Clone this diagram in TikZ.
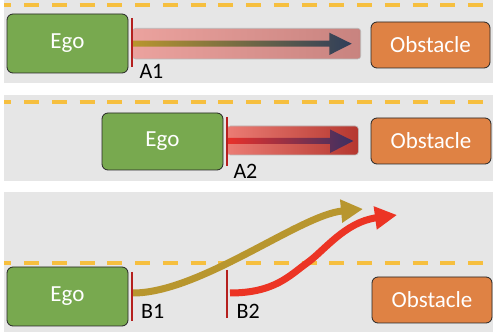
\documentclass[tikz,border=0pt]{standalone}
\usepackage{fontspec}
\setmainfont{Carlito}
\usetikzlibrary{arrows.meta}
\definecolor{lanegray}{HTML}{E6E6E6}
\definecolor{dashyellow}{HTML}{F6BF3F}
\definecolor{egogreen}{HTML}{78A94F}
\definecolor{obsorange}{HTML}{DF8244}
\definecolor{markred}{HTML}{B5201E}
\definecolor{goldc}{HTML}{B8962E}
\definecolor{navyc}{HTML}{2F3E5A}
\definecolor{curvered}{HTML}{EC3424}
\definecolor{pinkL}{HTML}{EBA29E}
\definecolor{pinkR}{HTML}{C8837F}
\definecolor{salmonL}{HTML}{EB7C74}
\definecolor{salmonR}{HTML}{B5372F}
\definecolor{brightred}{HTML}{E8302A}
\definecolor{midred}{HTML}{8C2030}
\definecolor{purplenavy}{HTML}{3A3063}
\tikzset{
  lane/.style={fill=lanegray, draw=none},
  laneline/.style={draw=dashyellow, line width=4pt, dash pattern=on 15pt off 12.75pt, dash phase=7.75pt},
  egobox/.style={draw=black!85, line width=0.8pt, fill=egogreen, rounded corners=6pt, text=white,
    font=\fontsize{23}{23}\selectfont, inner sep=0pt, minimum width=121pt},
  obsbox/.style={draw=black!85, line width=0.8pt, fill=obsorange, rounded corners=6pt, text=white,
    font=\fontsize{23}{23}\selectfont, inner sep=0pt, minimum width=119pt, minimum height=46pt},
  startmark/.style={draw=markred, line width=2.5pt},
  lbl/.style={font=\fontsize{22}{22}\selectfont, text=black, anchor=base west, inner sep=0pt},
  corridor/.style={draw=gray!55, line width=0.6pt, rounded corners=3pt},
  trajgold/.style={draw=goldc, line width=7pt, -{Triangle[length=22pt,width=22pt]}},
  trajred/.style={draw=curvered, line width=7pt, -{Triangle[length=22pt,width=22pt]}}
}
\begin{document}
\begin{tikzpicture}[x=1pt,y=-1pt]
\useasboundingbox (0,0) rectangle (493,336);
% lanes
\fill[lane] (4,0) rectangle (493,83.3);
\fill[lane] (4,95) rectangle (493,180.7);
\fill[lane] (4,191.7) rectangle (493,331.7);
% dashed lane lines
\draw[laneline] (4,5.3) -- (493,5.3);
\draw[laneline] (4,101.7) -- (493,101.7);
\draw[laneline] (4,262.7) -- (493,262.7);

% ---------- panel 1 ----------
\shade[corridor, left color=pinkL, right color=pinkR] (132.7,28.3) rectangle (360.7,59);
\shade[left color=goldc, right color=navyc]
  (132.7,40.7) -- (329.3,40.7) -- (329.3,32.7) -- (351.7,43.7) -- (329.3,55) -- (329.3,46.7) -- (132.7,46.7) -- cycle;
\node[egobox, minimum height=59pt] (ego1) at (67.5,43.5) {Ego};
\node[obsbox] (obs1) at (430.5,45) {Obstacle};
\coordinate (a1top) at (132,18);
\coordinate (a1bot) at (132,67);
\draw[startmark] (a1top) -- (a1bot);
\node[lbl] (a1) at (139.3,78.3) {A1};

% ---------- panel 2 ----------
\shade[corridor, left color=salmonL, right color=salmonR] (227.3,126) rectangle (358.3,155);
\shade[left color=brightred, middle color=midred, right color=purplenavy]
  (228,138) -- (330,138) -- (330,129.5) -- (353.3,141) -- (330,153) -- (330,144) -- (228,144) -- cycle;
\node[egobox, minimum height=57pt] (ego2) at (162.5,141.5) {Ego};
\node[obsbox, minimum width=120pt] (obs2) at (431,141) {Obstacle};
\coordinate (a2top) at (227,117);
\coordinate (a2bot) at (227,166);
\draw[startmark] (a2top) -- (a2bot);
\node[lbl] (a2) at (233.3,178.3) {A2};

% ---------- panel 3 ----------
\coordinate (b1s) at (133,293);
\coordinate (b1e) at (363,209);
\coordinate (b2s) at (230,293);
\coordinate (b2m) at (307,263);
\coordinate (b2e) at (397,215);
\draw[trajgold] (b1s) .. controls (200,293) and (300,215) .. (b1e);
\draw[trajred] (b2s) .. controls (275,293) and (290,275) .. (b2m) .. controls (324,251) and (345,222) .. (b2e);
\node[egobox, minimum height=59pt] (ego3) at (67.5,296.5) {Ego};
\node[obsbox, minimum width=120pt] (obs3) at (432,300) {Obstacle};
\coordinate (b1top) at (132,272);
\coordinate (b1bot) at (132,321);
\draw[startmark] (b1top) -- (b1bot);
\coordinate (b2top) at (227,270);
\coordinate (b2bot) at (227,318);
\draw[startmark] (b2top) -- (b2bot);
\node[lbl] (b1) at (141,318.3) {B1};
\node[lbl] (b2) at (236.5,318.3) {B2};
\end{tikzpicture}
\end{document}
